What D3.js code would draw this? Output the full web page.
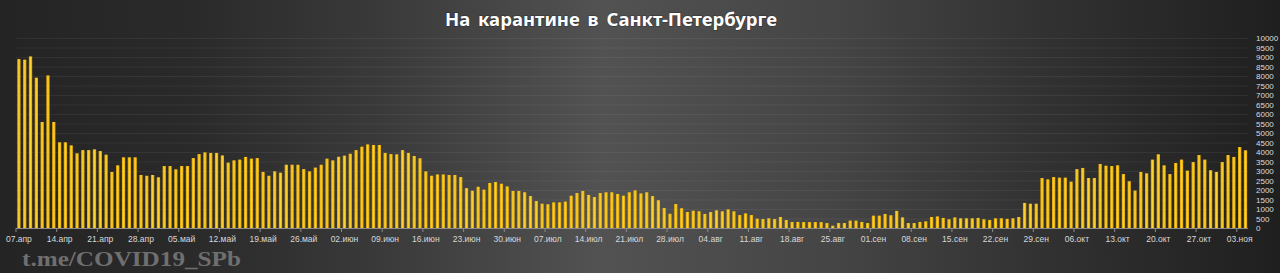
<!DOCTYPE html>
<html>
<head>
<meta charset="utf-8">
<script src="https://cdn.jsdelivr.net/npm/d3@7"></script>
<style>
  html, body { margin: 0; padding: 0; background: #2b2b2b; }
  svg { display: block; }
</style>
</head>
<body>
<div id="chart"></div>
<script>
// daily values, 07.04 .. 04.11
const startDate = new Date(2020, 3, 7);
const monthsRu = ["янв", "фев", "мар", "апр", "май", "июн", "июл", "авг", "сен", "окт", "ноя", "дек"];
const quarantine = [
  8890, 8860, 9030, 7910, 5580, 8030, 5580, 4510, 4510, 4350, 3930, 4100, 4100, 4140, 4050,
  3860, 2950, 3300, 3720, 3720, 3720, 2790, 2750, 2790, 2670, 3260, 3260, 3090, 3260, 3260,
  3680, 3890, 3980, 3950, 3950,
  3820, 3440, 3560, 3600, 3740, 3650, 3680, 2950, 2750, 2980, 2910, 3330, 3330, 3330, 3100,
  2980, 3180, 3330, 3650, 3560, 3750, 3810, 3910, 4100, 4280, 4400, 4370, 4370, 3950, 3890,
  3880, 4100, 3950, 3790, 3670,
  2980, 2750, 2820, 2820, 2790, 2790, 2680, 2100, 1960, 2170, 2020, 2370, 2420, 2330, 2190,
  1950, 1950, 1880, 1680, 1420, 1280, 1250, 1350, 1350, 1390, 1700, 1840, 1950, 1740, 1630,
  1840, 1880, 1880, 1790,
  1700, 1880, 1980, 1820, 1880, 1680, 1460, 1050, 750, 1260, 1040, 840, 910, 880, 740,
  840, 930, 880, 980, 880, 680, 770, 680, 490, 470, 510, 470, 580, 420, 320,
  320, 310, 310, 310, 310,
  260, 120, 260, 260, 390, 390, 320, 260, 650, 650, 740, 670, 900, 560, 260,
  260, 320, 350, 580, 610, 530, 460, 560, 510, 510, 510, 530, 460, 420, 510,
  510, 480, 510, 580,
  1320, 1280, 1280, 2630, 2560, 2680, 2650, 2650, 2440, 3100, 3160, 2630, 2630, 3370, 3280,
  3260, 3300, 2840, 2460, 1970, 2950, 2880, 3600, 3880, 3300, 2840, 3420, 3600, 3020, 3470,
  3840, 3600, 3040, 2950, 3470, 3840, 3740, 4260, 4090
];
const yTicks = d3.range(0, 10001, 500);
const title = "На карантине в Санкт-Петербурге";
const watermark = "t.me/COVID19_SPb";

const width = 1280, height = 273;
const days = quarantine.map((v, i) => d3.timeDay.offset(startDate, i));
const fmt = d => d3.timeFormat("%d")(d) + "." + monthsRu[d.getMonth()];

const svg = d3.select("#chart").append("svg")
  .attr("width", width)
  .attr("height", height);

const defs = svg.append("defs");
const bg = defs.append("linearGradient")
  .attr("id", "bg")
  .attr("x1", "0%").attr("x2", "100%").attr("y1", "0%").attr("y2", "0%");
[[0, "#242424"], [0.15, "#2a2a2a"], [0.3, "#3a3a3a"], [0.47, "#525252"],
 [0.65, "#454545"], [0.82, "#313131"], [1, "#1f1f1f"]].forEach(s =>
  bg.append("stop").attr("offset", s[0]).attr("stop-color", s[1]));

const barGrad = defs.append("linearGradient")
  .attr("id", "bar")
  .attr("x1", "0%").attr("x2", "100%").attr("y1", "0%").attr("y2", "0%");
barGrad.append("stop").attr("offset", "0%").attr("stop-color", "#d9a000");
barGrad.append("stop").attr("offset", "50%").attr("stop-color", "#ffd331");
barGrad.append("stop").attr("offset", "100%").attr("stop-color", "#d9a000");

svg.append("rect")
  .attr("width", width).attr("height", height)
  .attr("fill", "url(#bg)");

const x = d3.scaleBand()
  .domain(d3.range(quarantine.length))
  .range([16, 1248.4])
  .paddingInner(0.43)
  .paddingOuter(0.215);

const y = d3.scaleLinear()
  .domain([0, 10000])
  .range([228, 38]);

// grid
svg.append("g")
  .selectAll("line")
  .data(yTicks.filter(t => t > 0))
  .join("line")
  .attr("x1", 16).attr("x2", 1248)
  .attr("y1", d => y(d) + 0.5).attr("y2", d => y(d) + 0.5)
  .attr("stroke", "#ffffff")
  .attr("stroke-opacity", 0.06);

// bars
svg.append("g")
  .selectAll("rect")
  .data(quarantine)
  .join("rect")
  .attr("x", (d, i) => x(i))
  .attr("y", d => y(d))
  .attr("width", x.bandwidth())
  .attr("height", d => y(0) - y(d))
  .attr("fill", "url(#bar)");

// y axis on the right
const yAxis = svg.append("g")
  .attr("transform", "translate(1256,0)")
  .call(d3.axisRight(y).tickValues(yTicks).tickSize(0).tickPadding(0).tickFormat(d3.format("d")));
yAxis.select(".domain").remove();
yAxis.selectAll("text")
  .attr("fill", "#dcdcdc")
  .attr("font-family", "Liberation Sans, Arial, sans-serif")
  .attr("font-size", 8);

// x axis, ticks between weeks, labels on the day
const weekIdx = d3.range(0, quarantine.length, 7);
const step = x.step();
const xAxis = svg.append("g")
  .attr("transform", "translate(0,228)")
  .call(d3.axisBottom(x).tickValues(weekIdx).tickSize(0).tickPadding(0)
    .tickFormat(i => fmt(days[i])));
xAxis.select(".domain")
  .attr("d", "M16,0.5H1248")
  .attr("stroke", "#8a8a8a");
xAxis.selectAll(".tick").append("line")
  .attr("x1", -step / 2).attr("x2", -step / 2)
  .attr("y1", 0).attr("y2", 4)
  .attr("stroke", "#8a8a8a");
xAxis.selectAll("text")
  .attr("y", 14)
  .attr("dy", 0)
  .attr("fill", "#d8d8d8")
  .attr("font-family", "Liberation Sans, Arial, sans-serif")
  .attr("font-size", 8.5);

// title
svg.append("text")
  .attr("x", 611).attr("y", 26)
  .attr("text-anchor", "middle")
  .attr("fill", "#ffffff")
  .attr("font-family", "Noto Sans, Open Sans, sans-serif")
  .attr("font-weight", "bold")
  .attr("font-size", 18.5)
  .attr("word-spacing", 3)
  .style("paint-order", "stroke")
  .attr("stroke", "rgba(0,0,0,0.25)")
  .attr("stroke-width", 1.5)
  .text(title);

// watermark
svg.append("text")
  .attr("x", 22).attr("y", 266)
  .attr("fill", "#6f6f6f")
  .attr("font-family", "Liberation Serif, Times New Roman, serif")
  .attr("font-weight", "bold")
  .attr("font-size", 22)
  .attr("textLength", 219)
  .attr("lengthAdjust", "spacingAndGlyphs")
  .text(watermark);
</script>
</body>
</html>
